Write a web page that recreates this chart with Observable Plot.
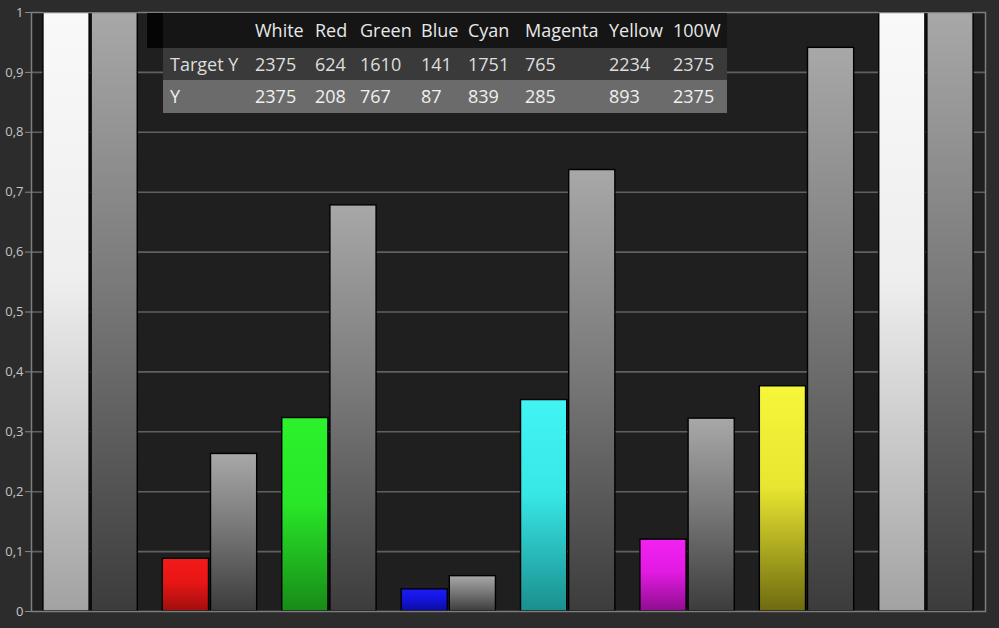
<!DOCTYPE html>
<html>
<head>
<meta charset="utf-8">
<script src="https://cdn.jsdelivr.net/npm/d3@7"></script>
<script src="https://cdn.jsdelivr.net/npm/@observablehq/plot@0.6"></script>
<style>
  html, body { margin: 0; padding: 0; background: #2c2c2c; }
  #wrap { position: relative; width: 999px; height: 628px; background: #2c2c2c; overflow: hidden; }
  #tbl { position: absolute; left: 0; top: 0; font-family: "Open Sans", "Noto Sans", sans-serif; font-size: 18px; }
  #tbl .bg { position: absolute; }
  #tbl .t { position: absolute; white-space: nowrap; line-height: 1; }
</style>
</head>
<body>
<div id="wrap"><div id="chart"></div><div id="tbl"></div></div>
<script>
// ---- data ----
const categories = ["White", "Red", "Green", "Blue", "Cyan", "Magenta", "Yellow", "100W"];
const measuredY = [1, 0.088, 0.323, 0.037, 0.353, 0.120, 0.376, 1];   // coloured bars (Y / white Y)
const targetYRel = [1, 0.263, 0.678, 0.059, 0.737, 0.322, 0.941, 1];   // grey bars (Target Y / white Y)
const tableTargetY = [2375, 624, 1610, 141, 1751, 765, 2234, 2375];
const tableY = [2375, 208, 767, 87, 839, 285, 893, 2375];
const yTicks = [0, 0.1, 0.2, 0.3, 0.4, 0.5, 0.6, 0.7, 0.8, 0.9, 1];

// ---- styling ----
const gradients = {
  white:   ["#f9f9f9", "#eeeeee", "#a2a2a2"],
  red:     ["#f21a1a", "#e81616", "#a00e0e"],
  green:   ["#2cf22c", "#28e628", "#188a18"],
  blue:    ["#1c1cf4", "#1414e0", "#0c0c9a"],
  cyan:    ["#42f4f4", "#38e6e6", "#1a8e8e"],
  magenta: ["#f222f2", "#e21ae2", "#8e0e8e"],
  yellow:  ["#f6f63a", "#e8e630", "#6e6a10"],
  gray:    ["#a8a8a8", "#7a7a7a", "#3c3c3c"]
};
const measGrad = ["white", "red", "green", "blue", "cyan", "magenta", "yellow", "white"];

const W = 999, H = 613;
const mL = 31, mR = 14, mT = 12, mB = 2;
const pInner = 0.21, pOuter = 0.1;
const step = (W - mL - mR) / (categories.length - pInner + 2 * pOuter);
const bw = step * (1 - pInner);
const half = bw / 2;

const measRows = categories.map((c, i) => ({cat: c, v: measuredY[i], g: `url(#g-${measGrad[i]})`}));
const targRows = categories.map((c, i) => ({cat: c, v: targetYRel[i], g: "url(#g-gray)"}));

const fmt = d => String(+d.toFixed(1)).replace(".", ",");

const svg = Plot.plot({
  width: W, height: H,
  marginLeft: mL, marginRight: mR, marginTop: mT, marginBottom: mB,
  style: {background: "transparent", color: "#c6c6c6", fontSize: "13px", fontFamily: "'Open Sans', 'Noto Sans', sans-serif", overflow: "visible"},
  x: {domain: categories, paddingInner: pInner, paddingOuter: pOuter, round: false, axis: null},
  y: {domain: [0, 1], ticks: 10, tickFormat: fmt, tickSize: 6, tickPadding: 2, label: null},
  color: {type: "identity"},
  marks: [
    Plot.frame({fill: "#1f1f1f", stroke: "none"}),
    Plot.ruleY(yTicks.slice(1, -1), {stroke: "#606060", strokeWidth: 1.6}),
    Plot.barY(measRows, {x: "cat", y: "v", fill: "g", stroke: "#000", strokeWidth: 1.4, insetRight: half + 1}),
    Plot.barY(targRows, {x: "cat", y: "v", fill: "g", stroke: "#000", strokeWidth: 1.4, insetLeft: half + 1}),
    Plot.frame({stroke: "#7e7e7e", strokeWidth: 1.5})
  ]
});
svg.style.overflow = "visible";
svg.style.display = "block";

// gradient defs
const sel = d3.select(svg);
const defs = sel.insert("defs", ":first-child");
for (const [k, cols] of Object.entries(gradients)) {
  const lg = defs.append("linearGradient").attr("id", `g-${k}`).attr("x1", 0).attr("y1", 0).attr("x2", 0).attr("y2", 1);
  lg.append("stop").attr("offset", "0%").attr("stop-color", cols[0]);
  lg.append("stop").attr("offset", "45%").attr("stop-color", cols[1]);
  lg.append("stop").attr("offset", "100%").attr("stop-color", cols[2]);
}
// axis tick colour
sel.selectAll("[aria-label='y-axis'] line, [aria-label='y-axis tick'] path, [aria-label='y-axis tick'] line").attr("stroke", "#8a8a8a");
document.getElementById("chart").appendChild(svg);

// ---- table overlay ----
const tbl = document.getElementById("tbl");
const colX = [255, 315, 360, 421, 468, 525, 609, 673];
const rows = [
  {label: "", values: categories, top: 13, h: 35, bg: "#151515", color: "#e8e8e8"},
  {label: "Target Y", values: tableTargetY, top: 48, h: 32, bg: "#3a3a3a", color: "#dedede"},
  {label: "Y", values: tableY, top: 80, h: 33, bg: "#6b6b6b", color: "#f0f0f0"}
];
function add(cls, styles, text) {
  const el = document.createElement("div");
  el.className = cls;
  Object.assign(el.style, styles);
  if (text !== undefined) el.textContent = text;
  tbl.appendChild(el);
  return el;
}
add("bg", {left: "147px", top: "13px", width: "16px", height: "35px", background: "#050505"});
rows.forEach(r => {
  add("bg", {left: "163px", top: r.top + "px", width: "564px", height: r.h + "px", background: r.bg});
  const ty = r.top + r.h / 2 - 9.5;
  if (r.label) add("t", {left: "170px", top: ty + "px", color: r.color}, r.label);
  r.values.forEach((v, i) => add("t", {left: colX[i] + "px", top: ty + "px", color: r.color}, String(v)));
});
</script>
</body>
</html>
